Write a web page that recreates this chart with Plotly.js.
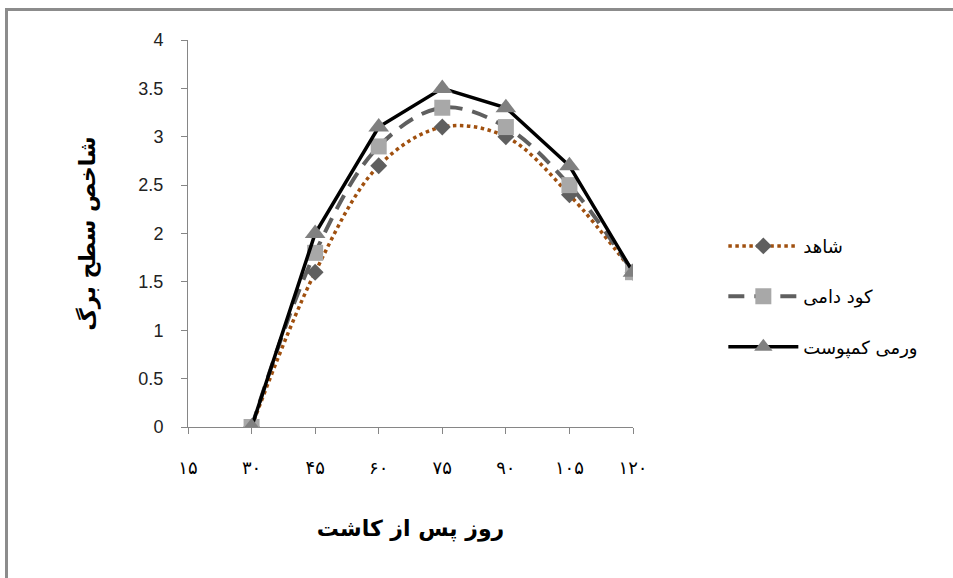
<!DOCTYPE html>
<html>
<head>
<meta charset="utf-8">
<script src="https://cdn.plot.ly/plotly-3.0.1.min.js"></script>
<style>
  html, body { margin: 0; padding: 0; background: #fff; }
  #chart { width: 953px; height: 578px; position: relative; }
  #frame {
    position: absolute; left: 5px; top: 8px; right: 0; bottom: 0;
    border-top: 3px solid #8c8c8c; border-left: 3px solid #8c8c8c;
    pointer-events: none;
  }
</style>
</head>
<body>
<div id="chart"></div>
<div id="frame"></div>
<script>
// Days after planting (x) and leaf area index per treatment
const days = [30, 45, 60, 75, 90, 105, 120];
const control = [0, 1.6, 2.7, 3.1, 3.0, 2.4, 1.6];       // شاهد
const manure = [0, 1.8, 2.9, 3.3, 3.1, 2.5, 1.6];        // کود دامی
const vermicompost = [0, 2.0, 3.1, 3.5, 3.3, 2.7, 1.6];  // ورمی کمپوست

const xTickVals = [15, 30, 45, 60, 75, 90, 105, 120];
const xTickText = ['۱۵', '۳۰', '۴۵', '۶۰', '۷۵', '۹۰', '۱۰۵', '۱۲۰'];
const seriesNames = ['شاهد', 'کود دامی', 'ورمی کمپوست'];

const persianFont = 'DejaVu Sans, sans-serif';

const traces = [
  {
    x: days, y: control, name: seriesNames[0], type: 'scatter', mode: 'lines+markers',
    legendgroup: 'a',
    line: { color: '#a0500f', width: 3.5, dash: 'dot', shape: 'spline', smoothing: 1 },
    marker: { symbol: 'diamond', size: 13, color: '#5f5f5f' }
  },
  {
    x: days, y: manure, name: seriesNames[1], type: 'scatter', mode: 'lines+markers',
    legendgroup: 'b',
    line: { color: '#5f5f5f', width: 4, dash: '16px,10px', shape: 'spline', smoothing: 1 },
    marker: { symbol: 'square', size: 16, color: '#a8a8a8' }
  },
  {
    x: days, y: vermicompost, name: seriesNames[2], type: 'scatter', mode: 'lines+markers',
    legendgroup: 'c',
    line: { color: '#000000', width: 3.5 },
    marker: { symbol: 'triangle-up', size: 18, color: '#808080' }
  }
];

const layout = {
  width: 953, height: 578,
  margin: { l: 188, r: 320, t: 40, b: 151 },
  paper_bgcolor: '#ffffff', plot_bgcolor: '#ffffff',
  showlegend: true,
  legend: {
    x: 1.203, xanchor: 'left', y: 0.515, yanchor: 'top',
    itemwidth: 70, tracegroupgap: 24,
    font: { family: persianFont, size: 18, color: '#000' },
    bgcolor: 'rgba(0,0,0,0)'
  },
  xaxis: {
    range: [15, 120], tickmode: 'array', tickvals: xTickVals, ticktext: xTickText,
    showgrid: false, zeroline: false, showline: true, linecolor: '#868686', linewidth: 1,
    ticks: 'outside', ticklen: 6, tickcolor: '#868686', ticklabelstandoff: 18,
    tickfont: { family: persianFont, size: 18, color: '#000' },
    title: { text: 'روز پس از کاشت', standoff: 44,
             font: { family: persianFont, size: 22, color: '#000', weight: 'bold' } }
  },
  yaxis: {
    range: [0, 4], dtick: 0.5, tick0: 0,
    showgrid: false, zeroline: false, showline: true, linecolor: '#868686', linewidth: 1,
    ticks: 'outside', ticklen: 6, tickcolor: '#868686', ticklabelstandoff: 14,
    tickfont: { family: 'Liberation Sans, Arial, sans-serif', size: 18, color: '#222' },
    title: { text: 'شاخص سطح برگ', standoff: 36,
             font: { family: persianFont, size: 22, color: '#000', weight: 'bold' } }
  }
};

Plotly.newPlot('chart', traces, layout, { displayModeBar: false, staticPlot: true });
</script>
</body>
</html>
